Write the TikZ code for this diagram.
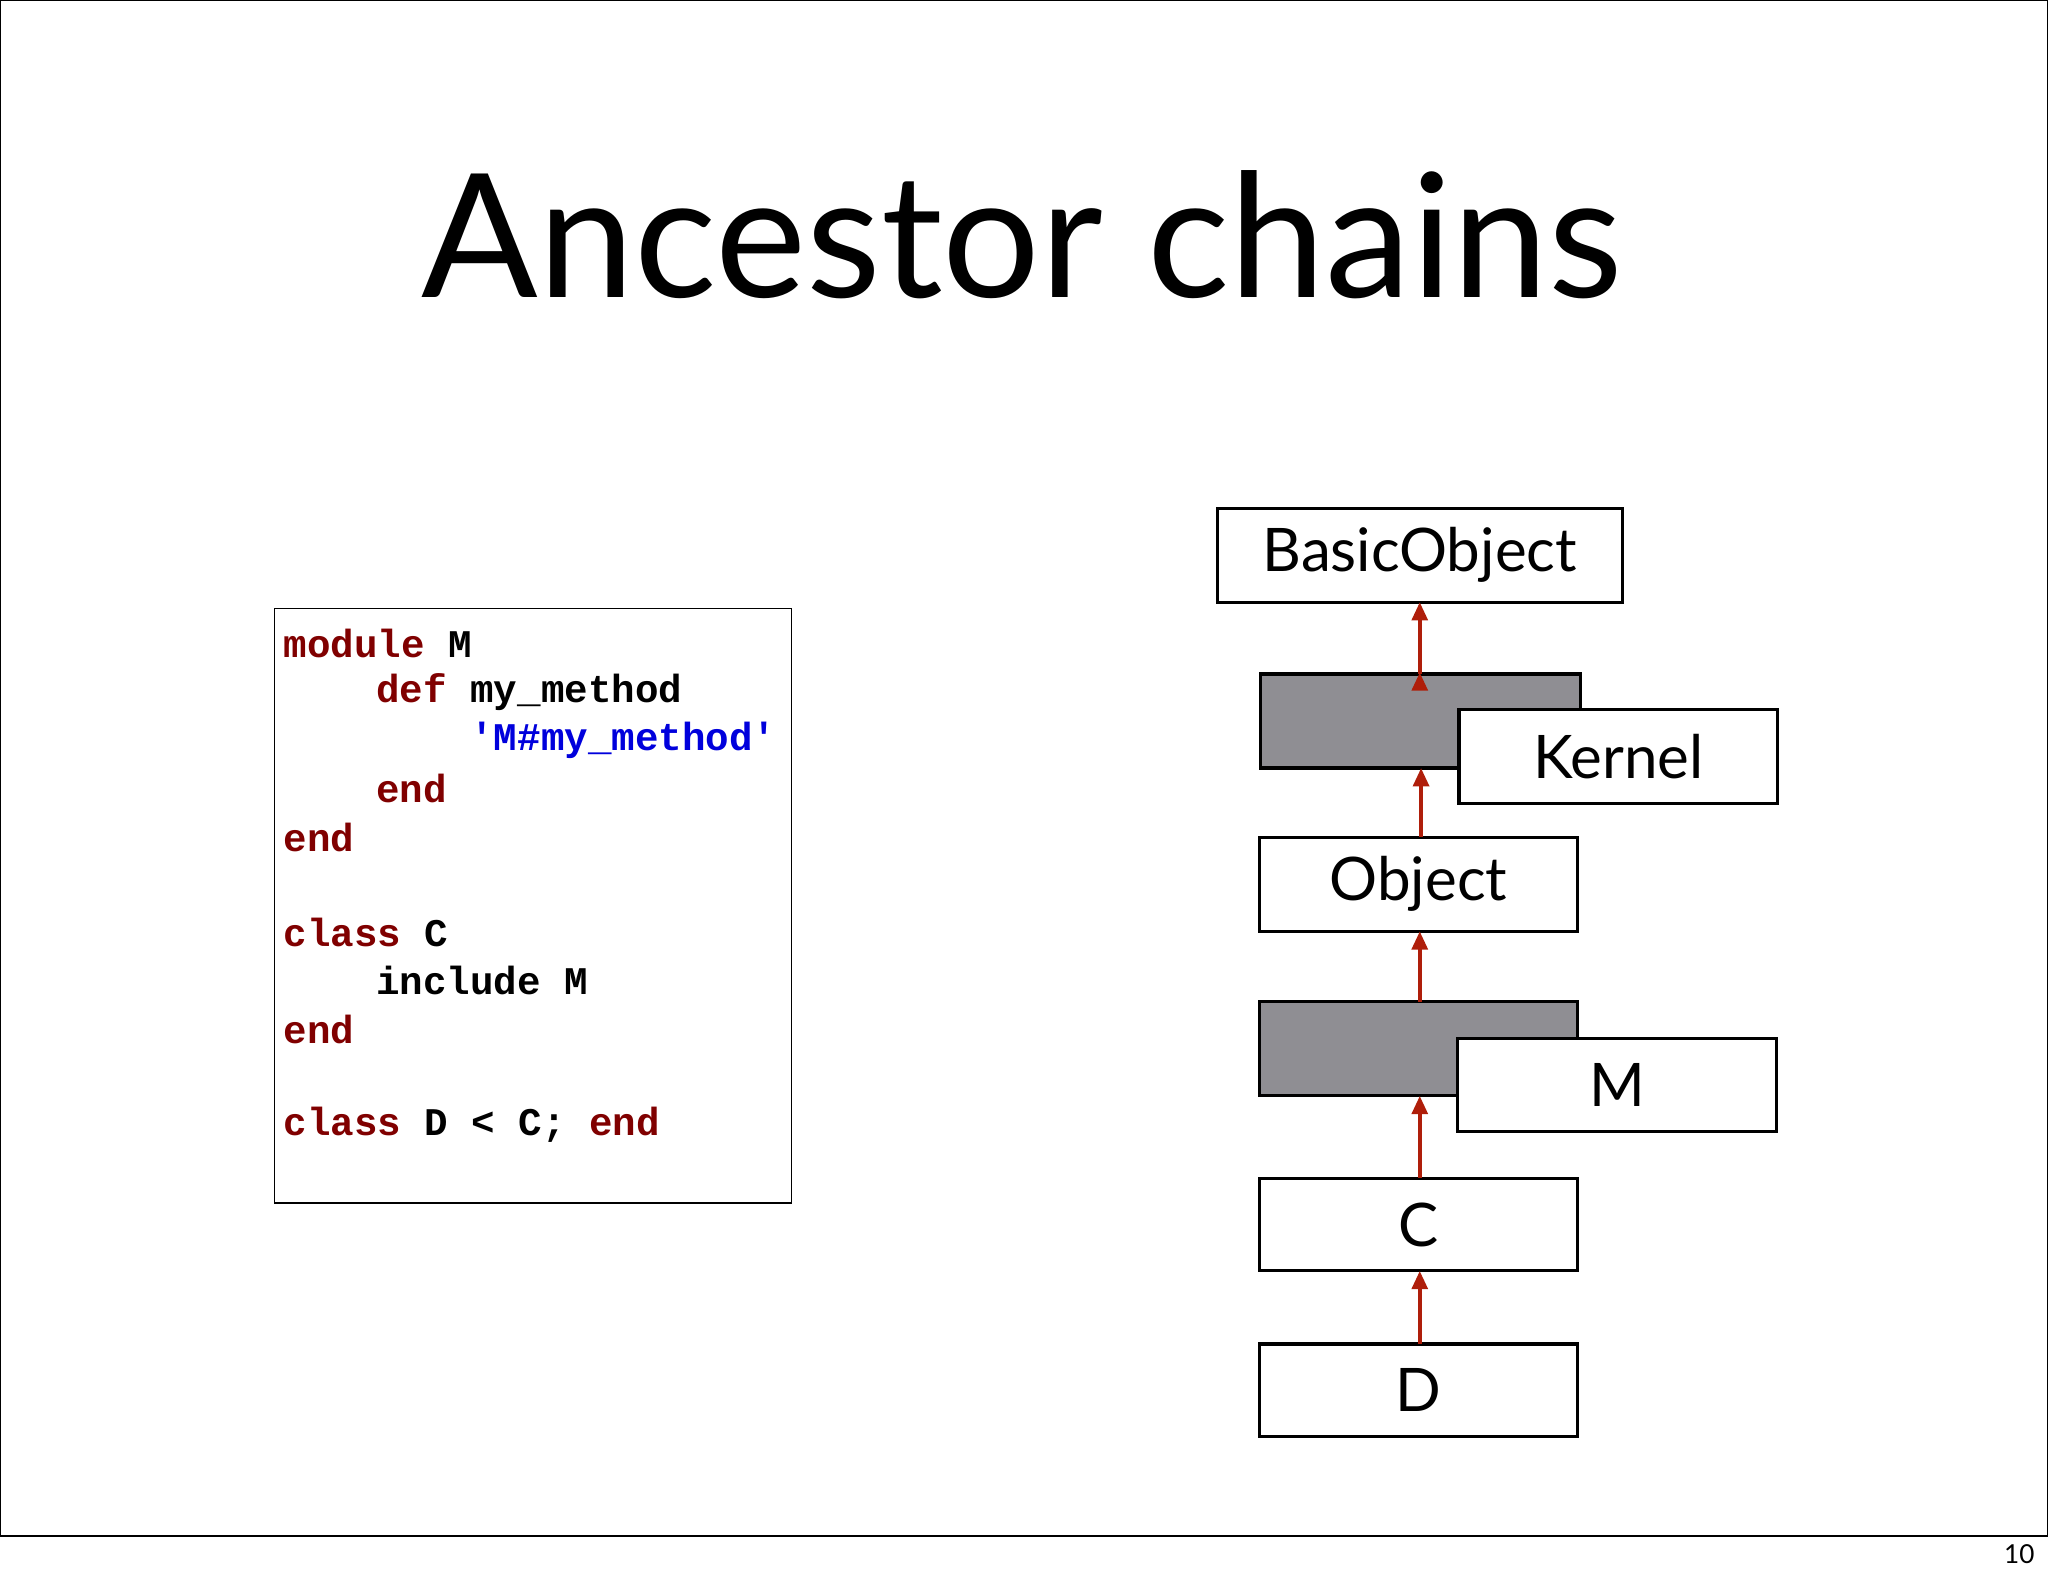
\documentclass[tikz,border=0pt]{standalone}
\usepackage{fontspec}
\setmainfont{Lato}
\newfontfamily\codefont{Liberation Mono}
\usetikzlibrary{arrows.meta}
\definecolor{kw}{RGB}{128,0,0}
\definecolor{str}{RGB}{0,0,220}
\definecolor{arr}{RGB}{175,30,10}
\definecolor{boxgray}{RGB}{143,142,147}
\begin{document}
\begin{tikzpicture}[x=1pt,y=-1pt,
  cls/.style={draw=black,line width=2.4pt,fill=white,inner sep=0pt,font=\fontsize{46}{50}\selectfont},
  arrowline/.style={draw=arr,line width=3pt,-{Triangle[length=14pt,width=12pt]}},
  code/.style={anchor=west,inner sep=0pt,font=\codefont\bfseries\fontsize{30}{30}\selectfont}]
\useasboundingbox (0,0) rectangle (1568,1207);
\draw[line width=1pt] (0.5,1176) -- (0.5,0.5) -- (1567.5,0.5) -- (1567.5,1176);
\draw[line width=1pt] (0,1176) -- (1568,1176);
\node[font=\fontsize{20}{20}\selectfont] (pg) at (1546,1190) {10};
\node[font=\fontsize{132}{140}\selectfont] (title) at (783,180) {Ancestor chains};
% code box
\node[draw,line width=1.2pt,minimum width=396pt,minimum height=455pt,inner sep=0pt] (codebox) at (408,693.5) {};
\node[code] (l1) at (217,493) {\textcolor{kw}{module} M};
\node[code] (l2) at (288,530) {\textcolor{kw}{def} my\_method};
\node[code] (l3) at (360,567) {\textcolor{str}{'M\#my\_method'}};
\node[code] (l4) at (288,604) {\textcolor{kw}{end}};
\node[code] (l5) at (217,641) {\textcolor{kw}{end}};
\node[code] (l6) at (217,714) {\textcolor{kw}{class} C};
\node[code] (l7) at (288,751) {include M};
\node[code] (l8) at (217,788) {\textcolor{kw}{end}};
\node[code] (l9) at (217,861) {\textcolor{kw}{class} D < C; \textcolor{kw}{end}};
% chain
\node[cls,minimum width=310pt,minimum height=72pt] (bo) at (1087,425) {BasicObject};
\node[cls,fill=boxgray,minimum width=245pt,minimum height=72pt] (g1) at (1087.5,552) {};
\node[cls,minimum width=244pt,minimum height=72pt] (kernel) at (1239,579) {Kernel};
\node[cls,minimum width=244pt,minimum height=72pt] (obj) at (1086,677) {Object};
\node[cls,fill=boxgray,minimum width=244pt,minimum height=72pt] (g2) at (1086,803) {};
\node[cls,minimum width=244pt,minimum height=71pt] (m) at (1238,830.5) {M};
\node[cls,minimum width=244pt,minimum height=71pt] (c) at (1086,937.5) {C};
\node[cls,minimum width=244pt,minimum height=71pt] (d) at (1086,1064.5) {D};
\draw[arrowline] (g1.north -| 1087,0) ++(0,0) coordinate (a1s);
\draw[arrowline] (1087,516) coordinate (t1) -- (1087,461) coordinate (h1);
\draw[arrowline] (1088,641) coordinate (t2) -- (1088,588) coordinate (h2);
\draw[arrowline] (1087,767) coordinate (t3) -- (1087,713) coordinate (h3);
\draw[arrowline] (1087,902) coordinate (t4) -- (1087,839) coordinate (h4);
\draw[arrowline] (1087,1029) coordinate (t5) -- (1087,973) coordinate (h5);
\end{tikzpicture}
\end{document}
